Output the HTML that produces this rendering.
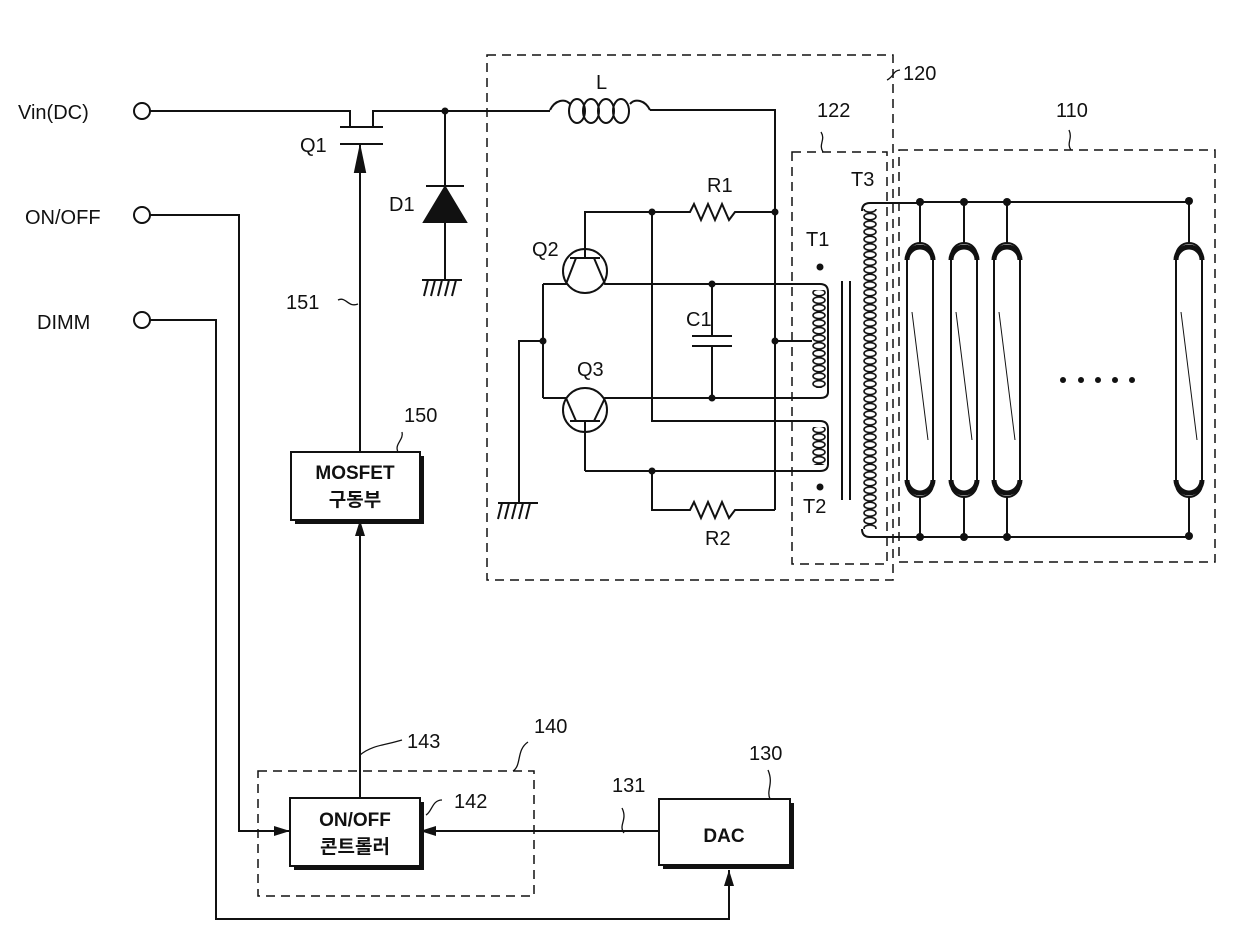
<!DOCTYPE html>
<html><head><meta charset="utf-8"><style>
html,body{margin:0;padding:0;background:#fff}
svg{display:block}
text{font-family:"Liberation Sans","Noto Sans CJK KR",sans-serif;fill:#111}
</style></head><body>
<svg width="1240" height="946" viewBox="0 0 1240 946" xmlns="http://www.w3.org/2000/svg">
<defs>
<pattern id="coilA" patternUnits="userSpaceOnUse" x="811" y="0" width="16" height="7.6"><ellipse cx="8" cy="3.8" rx="6" ry="3.2" fill="none" stroke="#111" stroke-width="1.6"/></pattern>
<pattern id="coilB" patternUnits="userSpaceOnUse" x="862" y="0" width="16" height="7.6"><ellipse cx="8" cy="3.8" rx="6" ry="3.2" fill="none" stroke="#111" stroke-width="1.6"/></pattern>
<marker id="ar" markerWidth="16" markerHeight="10" refX="16" refY="5" orient="auto" markerUnits="userSpaceOnUse"><path d="M0,0 L16,5 L0,10 z" fill="#111"/></marker>
</defs>
<g stroke="#111" stroke-width="2" fill="none">
<circle cx="142" cy="111" r="8"/>
<circle cx="142" cy="215" r="8"/>
<circle cx="142" cy="320" r="8"/>
<path d="M150,111 H350 V127 M340,127 H383 M373,127 V111 H550"/>
<path d="M340,144 H383 M360,144 V452"/>
<path d="M360,172 L355,172 L360,148 L365,172 Z" fill="#111"/>
<path d="M445,111 V280 M426,186 H464"/>
<path d="M445,187 L424,222 L466,222 Z" fill="#111"/>
<path d="M422,280 H462 M424,296 L428,280 M431,296 L435,280 M438,296 L442,280 M445,296 L449,280 M452,296 L456,280"/>
<path d="M150,215 H239 V831 H290" marker-end="url(#ar)"/>
<path d="M150,320 H216 V919 H729 V870" marker-end="url(#ar)"/>
<path d="M659,831 H420" marker-end="url(#ar)"/>
<path d="M360,798 V520" marker-end="url(#ar)"/>
<rect x="295" y="456" width="129" height="68" fill="#111" stroke="none"/>
<rect x="291" y="452" width="129" height="68" fill="#fff"/>
<rect x="294" y="802" width="130" height="68" fill="#111" stroke="none"/>
<rect x="290" y="798" width="130" height="68" fill="#fff"/>
<rect x="663" y="803" width="131" height="66" fill="#111" stroke="none"/>
<rect x="659" y="799" width="131" height="66" fill="#fff"/>
<g stroke-dasharray="9,6" stroke-width="1.5">
<rect x="258" y="771" width="276" height="125"/>
<rect x="487" y="55" width="406" height="525"/>
<rect x="792" y="152" width="95" height="412"/>
<rect x="899" y="150" width="316" height="412"/>
</g>
<path d="M550,110 C555,100 565,98 570,104 M650,110 C645,100 635,98 630,104 M650,110 H775 V510"/>
<ellipse cx="577" cy="111" rx="8" ry="12"/><ellipse cx="591" cy="111" rx="8" ry="12"/><ellipse cx="606" cy="111" rx="8" ry="12"/><ellipse cx="621" cy="111" rx="8" ry="12"/>
<path d="M585,249 V212 H690 L694,204 L701,220 L708,204 L715,220 L722,204 L729,220 L735,212 H775"/>
<circle cx="585" cy="271" r="22"/>
<path d="M570,258 H600 M585,258 V249 M576,258 L566,284 H543 M594,258 L605,284 H820"/>
<circle cx="585" cy="410" r="22"/>
<path d="M570,421 H600 M585,421 V471 M576,421 L566,398 H543 M594,421 L605,398 H820"/>
<path d="M543,284 V398 M543,341 H519 V503 M498,503 H538 M498,519 L502,503 M505,519 L509,503 M512,519 L516,503 M519,519 L523,503 M526,519 L530,503"/>
<path d="M652,212 V421 H820 M585,471 H820 M652,471 V510 H690 L694,502 L701,518 L708,502 L715,518 L722,502 L729,518 L735,510 H775"/>
<path d="M712,284 V336 M692,336 H732 M692,346 H732 M712,346 V398"/>
<path d="M775,341 H812"/>
<path d="M820,284 Q828,284 828,292 V392 Q828,398 820,398 M820,421 Q828,421 828,429 V464 Q828,471 820,471"/>
<path d="M842,281 V500 M850,281 V500"/>
<path d="M920,203 H870 Q862,203 862,211 M920,537 H870 Q862,537 862,529"/>
<path d="M920,202 H1189 M920,537 H1189"/>
<path d="M920,202 V243 M964,202 V243 M1007,202 V243 M1189,202 V243 M920,497 V537 M964,497 V537 M1007,497 V537 M1189,497 V537"/>
</g>
<rect x="811" y="290" width="16" height="98" fill="url(#coilA)"/>
<rect x="811" y="427" width="16" height="38" fill="url(#coilA)"/>
<rect x="862" y="209" width="16" height="320" fill="url(#coilB)"/>
<g fill="none" stroke="#111">
<g id="lp"><rect x="907" y="243" width="26" height="254" rx="13" stroke-width="2"/><path d="M907,260 A13,13 0 0 1 933,260 M907,480 A13,13 0 0 0 933,480" stroke-width="5"/><path d="M912,312 L928,440" stroke-width="1"/></g>
<use href="#lp" x="44"/><use href="#lp" x="87"/><use href="#lp" x="269"/>
</g>
<g fill="#111">
<circle cx="445" cy="111" r="3.5"/><circle cx="652" cy="212" r="3.5"/><circle cx="775" cy="212" r="3.5"/>
<circle cx="712" cy="284" r="3.5"/><circle cx="712" cy="398" r="3.5"/><circle cx="543" cy="341" r="3.5"/>
<circle cx="775" cy="341" r="3.5"/><circle cx="652" cy="471" r="3.5"/>
<circle cx="820" cy="267" r="3.5"/><circle cx="820" cy="487" r="3.5"/>
<circle cx="920" cy="202" r="4"/><circle cx="964" cy="202" r="4"/><circle cx="1007" cy="202" r="4"/><circle cx="1189" cy="201" r="4"/>
<circle cx="920" cy="537" r="4"/><circle cx="964" cy="537" r="4"/><circle cx="1007" cy="537" r="4"/><circle cx="1189" cy="536" r="4"/>
<circle cx="1063" cy="380" r="3"/><circle cx="1081" cy="380" r="3"/><circle cx="1098" cy="380" r="3"/><circle cx="1115" cy="380" r="3"/><circle cx="1132" cy="380" r="3"/>
</g>
<g fill="none" stroke="#111" stroke-width="1.3">
<path d="M338,300 C346,296 348,308 358,304"/>
<path d="M398,452 C394,444 404,440 402,432"/>
<path d="M360,755 C372,745 386,745 402,740"/>
<path d="M513,771 C522,765 516,750 528,742"/>
<path d="M426,815 C432,812 432,800 442,800"/>
<path d="M624,833 C618,825 628,820 622,808"/>
<path d="M770,799 C766,790 774,784 768,770"/>
<path d="M887,80 C895,76 892,71 900,70"/>
<path d="M823,152 C818,144 826,140 821,132"/>
<path d="M1071,150 C1066,143 1073,139 1069,130"/>
</g>
<g font-size="20">
<text x="18" y="119">Vin(DC)</text>
<text x="25" y="224">ON/OFF</text>
<text x="37" y="329">DIMM</text>
<text x="300" y="152">Q1</text>
<text x="389" y="211">D1</text>
<text x="286" y="309">151</text>
<text x="404" y="422">150</text>
<text x="407" y="748">143</text>
<text x="534" y="733">140</text>
<text x="454" y="808">142</text>
<text x="612" y="792">131</text>
<text x="749" y="760">130</text>
<text x="596" y="89">L</text>
<text x="707" y="192">R1</text>
<text x="532" y="256">Q2</text>
<text x="686" y="326">C1</text>
<text x="577" y="376">Q3</text>
<text x="705" y="545">R2</text>
<text x="806" y="246">T1</text>
<text x="803" y="513">T2</text>
<text x="851" y="186">T3</text>
<text x="817" y="117">122</text>
<text x="903" y="80">120</text>
<text x="1056" y="117">110</text>
</g>
<g font-size="19" font-weight="bold" text-anchor="middle">
<text x="355" y="479">MOSFET</text>
<text x="355" y="506">구동부</text>
<text x="355" y="826">ON/OFF</text>
<text x="355" y="853">콘트롤러</text>
<text x="724" y="842">DAC</text>
</g>
</svg>
</body></html>
